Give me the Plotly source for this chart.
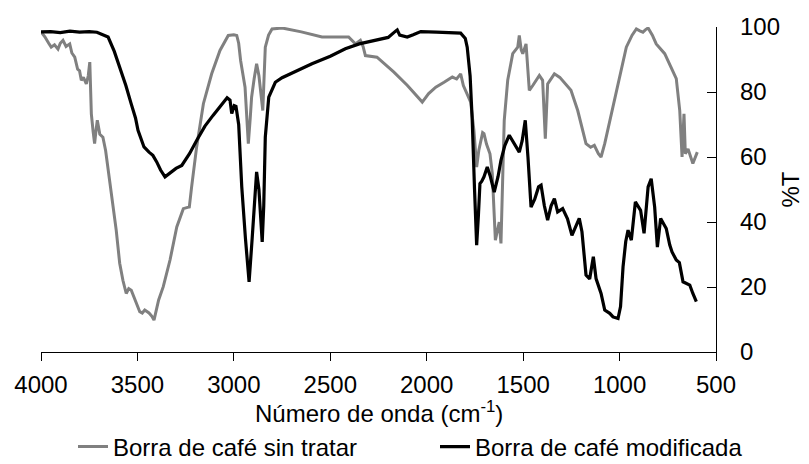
import plotly.graph_objects as go

# Borra de café modificada (black)
wn_mod = [4000, 3950, 3900, 3850, 3800, 3750, 3710, 3690, 3652, 3620, 3585, 3560, 3533, 3510, 3497,
          3480, 3466, 3440, 3420, 3400, 3380, 3357, 3330, 3300, 3270, 3230, 3193, 3150, 3108, 3070,
          3035, 3020, 3011, 2998, 2989, 2975, 2959, 2940, 2921, 2905, 2890, 2882, 2870, 2853, 2845,
          2837, 2819, 2785, 2750, 2700, 2650, 2595, 2500, 2422, 2350, 2258, 2200, 2160, 2153, 2140,
          2101, 2070, 2031, 1950, 1880, 1824, 1800, 1790, 1775, 1764, 1752, 1741, 1732, 1724, 1715,
          1703, 1686, 1670, 1650, 1630, 1615, 1595, 1572, 1545, 1520, 1505, 1489, 1475, 1459, 1440,
          1420, 1407, 1390, 1373, 1355, 1338, 1321, 1295, 1270, 1247, 1230, 1209, 1195, 1174, 1155,
          1136, 1122, 1096, 1077, 1051, 1034, 1008, 995, 982, 968, 956, 939, 918, 891, 873,
          852, 836, 818, 804, 787, 758, 740, 728, 706, 690, 671, 650, 636, 620, 602]
t_mod = [98.5, 98.6, 98.3, 98.7, 98.4, 98.6, 98.4, 97.8, 96.9, 92.5, 86.6, 82.0, 76.5, 72.0, 68.2,
         65.0, 63.1, 61.5, 60.5, 58.5, 56.0, 53.9, 55.0, 56.5, 57.4, 61.0, 65.1, 69.5, 72.8, 75.5,
         78.2, 77.5, 73.4, 75.8, 75.6, 70.0, 50.8, 35.0, 21.6, 35.0, 50.0, 55.4, 50.0, 33.9, 45.0,
         66.1, 78.4, 83.0, 84.4, 85.8, 87.2, 88.7, 91.0, 93.3, 94.8, 95.9, 96.8, 98.8, 99.1, 97.5,
         96.9, 97.6, 98.6, 98.4, 98.3, 98.1, 96.5, 93.8, 85.0, 71.3, 50.0, 32.9, 42.0, 51.8, 52.5,
         53.9, 56.9, 54.0, 49.2, 54.0, 59.0, 63.5, 66.7, 64.0, 61.5, 65.0, 71.3, 60.0, 44.6, 47.0,
         50.8, 51.3, 45.0, 40.6, 45.0, 47.2, 43.1, 44.1, 41.0, 35.9, 38.0, 41.1, 37.0, 23.7, 22.5,
         29.3, 22.6, 18.0, 12.9, 11.9, 10.8, 10.3, 14.0, 26.2, 34.0, 37.5, 34.4, 46.2, 43.6, 36.5,
         50.8, 53.3, 44.6, 32.3, 41.1, 38.0, 33.0, 30.8, 28.3, 27.5, 21.6, 21.0, 20.6, 18.0, 15.5]

# Borra de café sin tratar (gray)
wn_sin = [3998, 3980, 3960, 3947, 3930, 3912, 3900, 3886, 3870, 3851, 3840, 3825, 3810, 3800, 3791,
          3780, 3765, 3755, 3747, 3739, 3730, 3722, 3715, 3708, 3695, 3679, 3665, 3653, 3635, 3610,
          3592, 3575, 3558, 3545, 3532, 3510, 3488, 3475, 3462, 3440, 3425, 3414, 3400, 3390, 3366,
          3331, 3296, 3262, 3240, 3231, 3219, 3193, 3158, 3115, 3072, 3029, 3000, 2985, 2975, 2965,
          2942, 2932, 2925, 2915, 2908, 2895, 2882, 2870, 2856, 2850, 2837, 2820, 2802, 2750, 2650,
          2543, 2450, 2405, 2370, 2344, 2330, 2318, 2258, 2170, 2100, 2050, 2023, 1990, 1953, 1910,
          1867, 1845, 1824, 1810, 1798, 1772, 1755, 1741, 1730, 1720, 1710, 1703, 1690, 1672, 1660,
          1644, 1630, 1624, 1615, 1598, 1580, 1554, 1528, 1520, 1510, 1502, 1485, 1468, 1450, 1433,
          1416, 1399, 1385, 1373, 1338, 1310, 1287, 1252, 1217, 1195, 1174, 1150, 1131, 1110, 1096,
          1077, 1043, 1008, 965, 935, 913, 895, 879, 865, 852, 830, 810, 766, 732, 706,
          688, 676, 666, 659, 645, 620, 597]
t_sin = [98.4, 97.0, 95.0, 93.8, 94.5, 93.2, 95.0, 95.9, 94.0, 94.8, 92.0, 90.7, 87.0, 86.5, 83.6,
         84.5, 82.5, 85.0, 89.2, 73.3, 68.0, 64.1, 68.0, 71.3, 67.0, 66.1, 62.0, 56.9, 48.8, 37.5,
         27.3, 22.0, 18.0, 19.5, 19.0, 15.5, 12.4, 12.0, 12.9, 12.0, 11.0, 9.8, 13.0, 16.0, 20.1,
         28.3, 38.5, 44.1, 44.5, 44.6, 50.8, 63.1, 76.4, 85.6, 92.8, 97.4, 97.6, 97.4, 95.0, 89.7,
         81.5, 72.0, 64.1, 72.0, 78.4, 84.0, 88.7, 85.0, 76.4, 74.3, 93.8, 97.5, 99.4, 99.7, 98.5,
         96.9, 96.9, 96.9, 94.8, 95.9, 94.0, 91.2, 90.7, 86.1, 82.0, 78.5, 76.9, 79.5, 81.5, 83.0,
         84.6, 84.0, 85.6, 82.0, 80.5, 76.9, 68.0, 56.9, 62.0, 65.1, 67.5, 67.2, 64.0, 61.0, 55.0,
         34.4, 39.0, 40.0, 33.4, 71.3, 83.6, 91.8, 93.8, 97.4, 93.0, 91.8, 94.8, 80.5, 82.0, 83.6,
         85.1, 83.6, 65.6, 82.5, 85.6, 84.5, 83.0, 80.5, 74.3, 69.0, 64.1, 63.0, 63.6, 61.0, 60.0,
         64.1, 73.3, 82.5, 93.8, 97.5, 99.4, 98.8, 98.4, 99.2, 99.7, 97.5, 94.8, 91.8, 87.7, 84.1,
         74.3, 60.0, 73.3, 61.0, 62.5, 58.0, 61.5]

x_ticks = [4000, 3500, 3000, 2500, 2000, 1500, 1000, 500]
y_ticks = [0, 20, 40, 60, 80, 100]

FW, FH = 801, 456  # page body adds an 8px offset inside the 809x464 window
font = dict(family="Arial, Liberation Sans, sans-serif", size=24, color="black")

fig = go.Figure()
fig.add_trace(go.Scatter(x=wn_sin, y=t_sin, mode="lines", name="Borra de café sin tratar",
                         line=dict(color="#808080", width=3.0), legend="legend"))
fig.add_trace(go.Scatter(x=wn_mod, y=t_mod, mode="lines", name="Borra de café modificada",
                         line=dict(color="#000000", width=3.2), legend="legend2"))

leg_common = dict(orientation="h", xref="container", yref="container", xanchor="left",
                  yanchor="middle", y=1 - 439 / FH, font=font, bgcolor="rgba(0,0,0,0)",
                  borderwidth=0, itemwidth=30)

fig.update_layout(
    width=FW, height=FH,
    margin=dict(l=33, r=93, t=18.5, b=112, autoexpand=False, pad=0),
    paper_bgcolor="white", plot_bgcolor="white",
    font=font,
    showlegend=True,
    legend=dict(x=65 / FW, **leg_common),
    legend2=dict(x=427 / FW, **leg_common),
    xaxis=dict(range=[4000, 500], tickvals=x_ticks, ticktext=[str(v) for v in x_ticks],
               automargin=False,
               ticks="outside", ticklen=8, tickcolor="black", tickwidth=1.3,
               showline=True, linecolor="black", linewidth=1.3, showgrid=False, zeroline=False,
               ticklabelstandoff=3, tickfont=font),
    yaxis=dict(range=[0, 100], tickvals=y_ticks, side="right", automargin=False,
               ticks="inside", ticklen=9, tickcolor="black", tickwidth=1.3,
               showline=True, linecolor="black", linewidth=1.3, showgrid=False, zeroline=False,
               ticklabelstandoff=18, tickfont=font),
    annotations=[
        dict(text="Número de onda (cm<sup>-1</sup>)", xref="paper", yref="paper", x=0.5, y=0,
             xanchor="center", yanchor="middle", yshift=-60, showarrow=False, font=font),
        dict(text="%T", xref="paper", yref="paper", x=1, y=0.5, xanchor="center",
             yanchor="middle", xshift=74, textangle=-90, showarrow=False, font=font),
    ],
)

fig.write_html("out.html")
